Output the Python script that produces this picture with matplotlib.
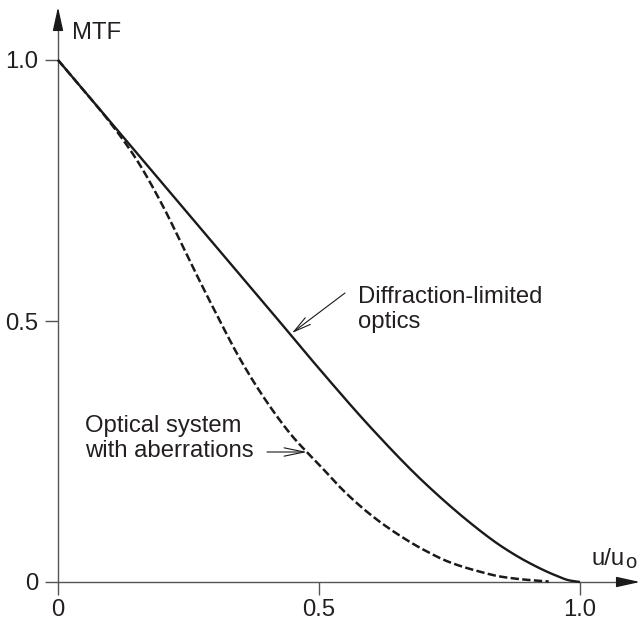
import numpy as np
import matplotlib
matplotlib.use("Agg")
import matplotlib.pyplot as plt

plt.rcParams['font.family'] = ['Liberation Sans', 'DejaVu Sans']
plt.rcParams['lines.scale_dashes'] = False

# Normalised spatial frequency u/u_o and MTF values
freq_diffraction = [0.0, 0.1, 0.2, 0.3, 0.4, 0.5, 0.6, 0.7, 0.8, 0.85, 0.9, 0.95, 0.98, 1.0]
mtf_diffraction = [1.0, 0.882, 0.764, 0.646, 0.528, 0.409, 0.295, 0.192, 0.105, 0.068, 0.038,
                   0.014, 0.003, 0.0]

freq_aberrated = [0.0, 0.05, 0.1, 0.15, 0.2, 0.25, 0.3, 0.35, 0.4, 0.45, 0.5,
                  0.55, 0.6, 0.65, 0.7, 0.75, 0.8, 0.85, 0.9, 0.94]
mtf_aberrated = [1.0, 0.941, 0.880, 0.810, 0.722, 0.620, 0.520, 0.425, 0.345, 0.278, 0.225,
                 0.172, 0.128, 0.092, 0.062, 0.038, 0.022, 0.010, 0.004, 0.001]

tick_values = [0.0, 0.5, 1.0]
x_tick_labels = ['0', '0.5', '1.0']
y_tick_labels = ['0', '0.5', '1.0']

INK = '#231f20'
AXIS = '#555555'
FS = 17.2


def pchip(x, y, xs):
    """Monotone piecewise cubic Hermite interpolation."""
    x = np.asarray(x, float)
    y = np.asarray(y, float)
    h = np.diff(x)
    d = np.diff(y) / h
    m = np.zeros_like(y)
    for k in range(1, len(x) - 1):
        if d[k - 1] * d[k] > 0:
            w1 = 2 * h[k] + h[k - 1]
            w2 = h[k] + 2 * h[k - 1]
            m[k] = (w1 + w2) / (w1 / d[k - 1] + w2 / d[k])
    m[0] = d[0]
    m[-1] = d[-1]
    idx = np.clip(np.searchsorted(x, xs) - 1, 0, len(x) - 2)
    t = (xs - x[idx]) / h[idx]
    h00 = 2 * t**3 - 3 * t**2 + 1
    h10 = t**3 - 2 * t**2 + t
    h01 = -2 * t**3 + 3 * t**2
    h11 = t**3 - t**2
    return h00 * y[idx] + h10 * h[idx] * m[idx] + h01 * y[idx + 1] + h11 * h[idx] * m[idx + 1]


fig = plt.figure(figsize=(6.42, 6.21), dpi=100)
ax = fig.add_axes([0, 0, 1, 1])
ax.set_xlim(-58 / 522, (642 - 58) / 522)
ax.set_ylim((582 - 621) / 522, 582 / 522)

# Curves
xs1 = np.linspace(freq_diffraction[0], freq_diffraction[-1], 500)
ax.plot(xs1, pchip(freq_diffraction, mtf_diffraction, xs1), color='#1a1a1a', lw=1.7,
        solid_capstyle='butt', zorder=3)
xs2 = np.linspace(freq_aberrated[0], freq_aberrated[-1], 500)
ax.plot(xs2, pchip(freq_aberrated, mtf_aberrated, xs2), color='#1a1a1a', lw=1.8,
        dashes=(6.0, 2.4), zorder=3)

# Axes through the origin
for side in ('top', 'right'):
    ax.spines[side].set_visible(False)
ax.spines['left'].set_position(('data', 0))
ax.spines['bottom'].set_position(('data', 0))
ax.spines['left'].set_bounds(0, 1.07)
ax.spines['bottom'].set_bounds(0, 1.08)
for side in ('left', 'bottom'):
    ax.spines[side].set_color(AXIS)
    ax.spines[side].set_linewidth(1.0)

ax.set_xticks(tick_values)
ax.set_xticklabels(x_tick_labels)
ax.set_yticks(tick_values)
ax.set_yticklabels(y_tick_labels)
ax.tick_params(direction='out', length=9.4, width=1.0, color=AXIS,
               labelsize=FS, labelcolor=INK)
ax.tick_params(axis='x', pad=3)
ax.tick_params(axis='y', pad=5)

# Arrowheads at the ends of the axes
head = '-|>,head_length=1.45,head_width=0.32'
ax.annotate('', xy=(0, (582 - 7) / 522), xytext=(0, 1.06),
            arrowprops=dict(arrowstyle=head, color='#1a1a1a', lw=1.0,
                            mutation_scale=10, shrinkA=0, shrinkB=0))
ax.annotate('', xy=((640 - 58) / 522, 0), xytext=(1.07, 0),
            arrowprops=dict(arrowstyle=head, color='#1a1a1a', lw=1.0,
                            mutation_scale=10, shrinkA=0, shrinkB=0))

# Axis titles
ax.text(0.027, 1.052, 'MTF', fontsize=FS, color=INK, ha='left', va='center')
ax.text(1.022, 0.0326, 'u/u', fontsize=FS, color=INK, ha='left', va='baseline')
ax.text(1.086, 0.026, 'o', fontsize=14.5, color=INK, ha='left', va='baseline')

# Curve annotations
ax.text(0.575, 0.5345, 'Diffraction-limited', fontsize=FS, color=INK, va='baseline')
ax.text(0.575, 0.4866, 'optics', fontsize=FS, color=INK, va='baseline')
ax.annotate('', xy=((292 - 58) / 522, (582 - 333) / 522),
            xytext=((345 - 58) / 522, (582 - 293) / 522),
            arrowprops=dict(arrowstyle='->,head_length=1.25,head_width=0.3',
                            color='#1a1a1a', lw=0.8, mutation_scale=10,
                            shrinkA=0, shrinkB=0))

ax.text(0.052, 0.2874, 'Optical system', fontsize=FS, color=INK, va='baseline')
ax.text(0.052, 0.2395, 'with aberrations', fontsize=FS, color=INK, va='baseline')
ax.annotate('', xy=((307 - 58) / 522, (582 - 452) / 522),
            xytext=((267 - 58) / 522, (582 - 452) / 522),
            arrowprops=dict(arrowstyle='->,head_length=1.45,head_width=0.3',
                            color='#1a1a1a', lw=0.8, mutation_scale=10,
                            shrinkA=0, shrinkB=0))

fig.savefig('out.png', dpi=100, facecolor='white')
